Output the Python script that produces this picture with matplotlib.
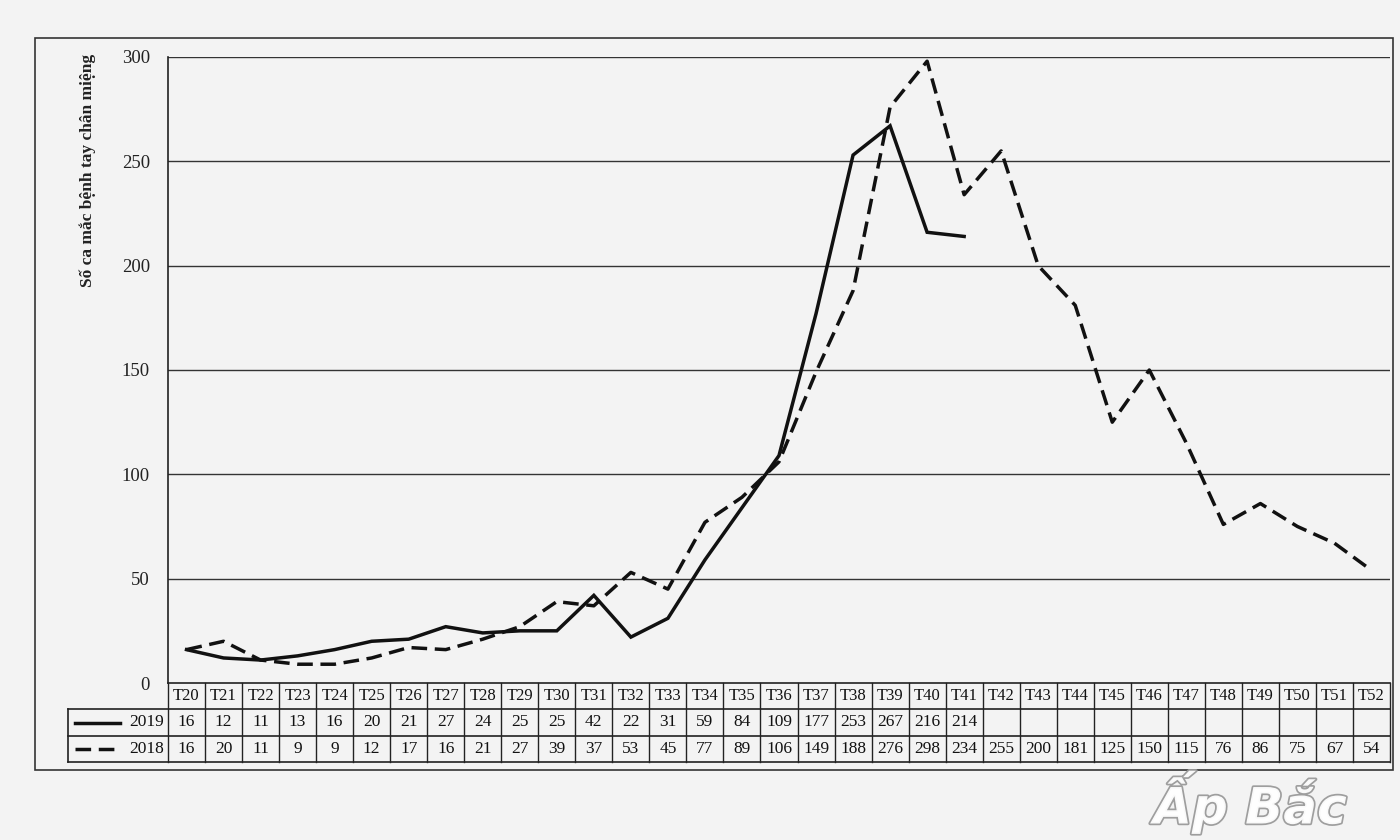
import matplotlib
matplotlib.use("Agg")
import matplotlib.pyplot as plt
import matplotlib.patheffects as pe
from matplotlib.patches import Rectangle

weeks = ["T%d" % w for w in range(20, 53)]
cases_2019 = [16, 12, 11, 13, 16, 20, 21, 27, 24, 25, 25, 42, 22, 31, 59, 84, 109, 177, 253, 267, 216, 214]
cases_2018 = [16, 20, 11, 9, 9, 12, 17, 16, 21, 27, 39, 37, 53, 45, 77, 89, 106, 149, 188, 276, 298, 234,
              255, 200, 181, 125, 150, 115, 76, 86, 75, 67, 54]
yticks = [0, 50, 100, 150, 200, 250, 300]
ylabel = "Số ca mắc bệnh tay chân miệng"
series_labels = ["2019", "2018"]

plt.rcParams['font.family'] = ['Liberation Serif', 'DejaVu Serif']

W, H = 1400, 840
fig = plt.figure(figsize=(W / 100, H / 100), dpi=100, facecolor='#f3f3f3')

def fx(px):
    return px / W

def fy(py):
    return 1 - py / H

# outer frame
fig.patches.append(Rectangle((fx(35), fy(770)), fx(1393) - fx(35), fy(38) - fy(770),
                             transform=fig.transFigure, fill=False, edgecolor='#333333', lw=1.2))

L, R, T, B = 168, 1390, 57, 683
ax = fig.add_axes([fx(L), fy(B), fx(R) - fx(L), fy(T) - fy(B)])
ax.set_facecolor('none')
n = len(weeks)
ax.set_xlim(-0.5, n - 0.5)
ax.set_ylim(0, 300)
for s in ['top', 'right', 'bottom']:
    ax.spines[s].set_visible(False)
ax.spines['left'].set_color('#222222')
ax.spines['left'].set_linewidth(1.2)
ax.set_xticks([])
ax.set_yticks(yticks)
ax.set_yticklabels([str(v) for v in yticks], fontsize=13.5, color='#222222')
ax.tick_params(axis='y', length=0, pad=13)
for v in yticks[1:]:
    ax.axhline(v, color='#333333', lw=1.0, zorder=1)

ax.plot(range(len(cases_2019)), cases_2019, color='#111111', lw=2.5, solid_joinstyle='miter', zorder=3)
ax.plot(range(len(cases_2018)), cases_2018, color='#111111', lw=2.5, linestyle=(0, (4.5, 2.2)), zorder=3)

fig.text(fx(88), fy(170), ylabel, rotation=90, ha='center', va='center',
         fontsize=12.5, fontweight='bold', color='#222222')

# data table
tb_top, tb_bot = 683, 762
axt = fig.add_axes([fx(L), fy(tb_bot), fx(R) - fx(L), fy(tb_top) - fy(tb_bot)])
axt.set_xlim(-0.5, n - 0.5)
axt.set_ylim(0, 3)
axt.axis('off')
colw = (R - L) / n
xleft = -0.5 - (L - 68) / colw
lc = '#222222'
axt.plot([-0.5, n - 0.5], [3, 3], color=lc, lw=1.2, clip_on=False)
for yy in [0, 1, 2]:
    axt.plot([xleft, n - 0.5], [yy, yy], color=lc, lw=1.2, clip_on=False)
for k in range(n + 1):
    axt.plot([k - 0.5, k - 0.5], [0, 3], color=lc, lw=1.0, clip_on=False)
axt.plot([xleft, xleft], [0, 2], color=lc, lw=1.2, clip_on=False)

for i, w in enumerate(weeks):
    axt.text(i, 2.5, w, ha='center', va='center', fontsize=12, color='#111111')
for i, v in enumerate(cases_2019):
    axt.text(i, 1.5, str(v), ha='center', va='center', fontsize=12.5, color='#111111')
for i, v in enumerate(cases_2018):
    axt.text(i, 0.5, str(v), ha='center', va='center', fontsize=12.5, color='#111111')

# legend samples in label column
x0 = xleft + (75 - 68) / colw
x1 = xleft + (120 - 68) / colw
axt.plot([x0, x1], [1.5, 1.5], color='#111111', lw=2.5, clip_on=False)
axt.plot([x0, x1], [0.5, 0.5], color='#111111', lw=2.5, linestyle=(0, (4.5, 2.2)), clip_on=False)
axt.text(-0.5 - 0.1, 1.5, series_labels[0], ha='right', va='center', fontsize=12.5, color='#111111')
axt.text(-0.5 - 0.1, 0.5, series_labels[1], ha='right', va='center', fontsize=12.5, color='#111111')

# watermark (placed just below the table so it does not cover the numbers)
fig.text(fx(1250), fy(802), "Ấp Bắc", ha='center', va='center', fontsize=36, fontstyle='italic',
         fontweight='bold', family=['DejaVu Sans'], color='white', alpha=0.95,
         path_effects=[pe.withStroke(linewidth=2.5, foreground='#9a9a9a')])

fig.savefig("out.png", dpi=100, facecolor=fig.get_facecolor())
